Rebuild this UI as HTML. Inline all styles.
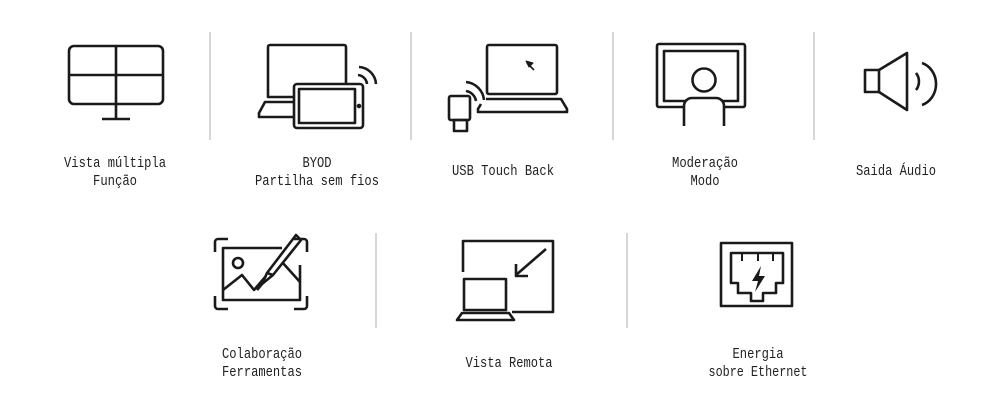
<!DOCTYPE html>
<html><head><meta charset="utf-8"><style>
html,body{margin:0;padding:0;background:#fff;width:1000px;height:400px;overflow:hidden}
svg{display:block}
text{font-family:"Liberation Mono",monospace;font-size:15px;fill:#222;text-anchor:middle}
</style></head><body>
<svg width="1000" height="400" viewBox="0 0 1000 400" xmlns="http://www.w3.org/2000/svg">
<g stroke="#bbb" stroke-width="1.2">
<line x1="210" y1="32" x2="210" y2="140"/><line x1="411" y1="32" x2="411" y2="140"/>
<line x1="613" y1="32" x2="613" y2="140"/><line x1="814" y1="32" x2="814" y2="140"/>
<line x1="376" y1="233" x2="376" y2="328"/><line x1="627" y1="233" x2="627" y2="328"/>
</g>
<g fill="none" stroke="#1a1a1a" stroke-width="2.6" stroke-linejoin="round">
<rect x="69" y="46" width="94" height="58" rx="5"/>
<line x1="116" y1="46" x2="116" y2="119"/><line x1="69" y1="75" x2="163" y2="75"/>
<line x1="102" y1="119" x2="130" y2="119"/>
<path d="M294 97 H268 V47 a2 2 0 0 1 2-2 H344 a2 2 0 0 1 2 2 V84"/>
<path d="M294 102 H265 L259 113 V117 H294"/>
<rect x="294" y="84" width="69" height="44" rx="3"/>
<rect x="299" y="89" width="56" height="34"/>
<circle cx="359" cy="106" r="1" fill="#1a1a1a"/>
<path d="M358 75 a10 10 0 0 1 9 9"/><path d="M359 67 a18 18 0 0 1 17 17"/>
<rect x="487" y="45" width="70" height="49" rx="2"/>
<path d="M486 99 H561 L567 109 V112 H478 V109 L481 104"/>
<path d="M527 63 L534 70" stroke-width="1.6"/><path d="M526 61 L533 63 L529 67 Z" fill="#1a1a1a" stroke-width="1"/>
<rect x="449" y="96" width="21" height="24" rx="2"/>
<rect x="454" y="120" width="13" height="11"/>
<path d="M466 91 a12 12 0 0 1 10 10"/><path d="M466 82 a20 20 0 0 1 18 18"/>
<rect x="657" y="44" width="88" height="63" rx="2"/>
<rect x="664" y="51" width="74" height="50"/>
<circle cx="704" cy="80" r="11.5"/>
<path d="M684 126 V106 a8 8 0 0 1 8-8 H716 a8 8 0 0 1 8 8 V126" fill="#fff"/>
<rect x="865" y="70" width="14" height="22"/>
<path d="M879 70 L907 53 V110 L879 92"/>
<path d="M916 73 a10 12 0 0 1 0 17"/><path d="M922 63 a20 22 0 0 1 0 42"/>
<path d="M215 252 V242 a3 3 0 0 1 3-3 H228 M294 239 H304 a3 3 0 0 1 3 3 V252 M307 296 V306 a3 3 0 0 1-3 3 H294 M228 309 H218 a3 3 0 0 1-3-3 V296"/>
<path d="M282 248 H223 V300 H300 V265"/>
<circle cx="238" cy="263" r="5"/>
<path d="M223 290 L242 275 L254 290 L266 276"/><path d="M282 262 L300 282"/>
<path d="M296 235 L301 240 L273 275 L267 273 Z"/>
<path d="M267 273 L262 284 L273 275" /><path d="M262 284 L257 290"/>
<path d="M463 272 V241 H553 V312 H512"/>
<rect x="464" y="279" width="42" height="31"/>
<path d="M462 313 H509 L514 320 H457 Z"/>
<line x1="546" y1="249" x2="516" y2="275"/>
<path d="M516 264 V276 H528"/>
<rect x="721" y="243" width="71" height="63"/>
<path d="M731 253 H783 V283 H776 V293 H763 V301 H751 V293 H738 V283 H731 Z"/>
<path d="M742 253 V261 M758 253 V261 M773 253 V261" stroke-width="2"/>
</g>
<path d="M761 266 L752 281 H758 L755 292 L765 276 H759 Z" fill="#1a1a1a"/>
<g lengthAdjust="spacingAndGlyphs">
<text x="115" y="167" textLength="102" lengthAdjust="spacingAndGlyphs">Vista múltipla</text><text x="115" y="185" textLength="44" lengthAdjust="spacingAndGlyphs">Função</text>
<text x="317" y="167" textLength="29" lengthAdjust="spacingAndGlyphs">BYOD</text><text x="317" y="185" textLength="124" lengthAdjust="spacingAndGlyphs">Partilha sem fios</text>
<text x="503" y="175" textLength="102" lengthAdjust="spacingAndGlyphs">USB Touch Back</text>
<text x="705" y="167" textLength="66" lengthAdjust="spacingAndGlyphs">Moderação</text><text x="705" y="185" textLength="29" lengthAdjust="spacingAndGlyphs">Modo</text>
<text x="896" y="175" textLength="80" lengthAdjust="spacingAndGlyphs">Saida Áudio</text>
<text x="262" y="358" textLength="80" lengthAdjust="spacingAndGlyphs">Colaboração</text><text x="262" y="376" textLength="80" lengthAdjust="spacingAndGlyphs">Ferramentas</text>
<text x="509" y="367" textLength="87" lengthAdjust="spacingAndGlyphs">Vista Remota</text>
<text x="758" y="358" textLength="51" lengthAdjust="spacingAndGlyphs">Energia</text><text x="758" y="376" textLength="99" lengthAdjust="spacingAndGlyphs">sobre Ethernet</text>
</g>
</svg>
</body></html>
